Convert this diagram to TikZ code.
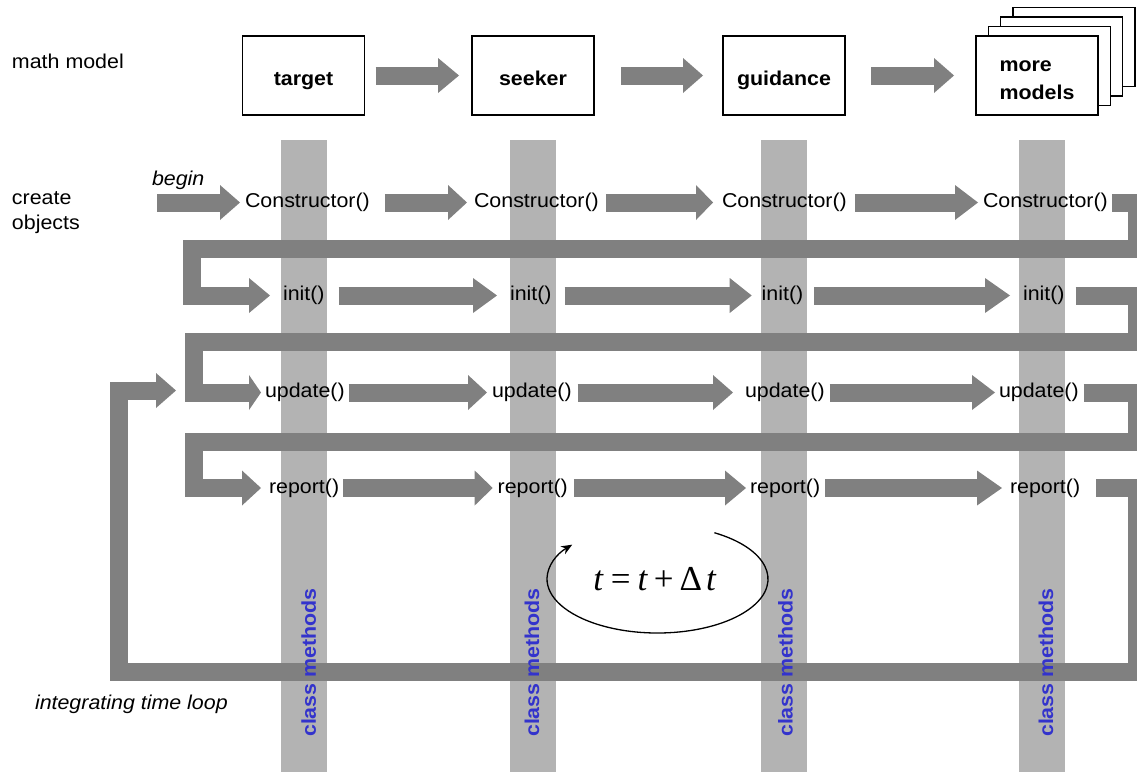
\documentclass[tikz,border=0pt]{standalone}
\usepackage{fontspec}
\setmainfont{Liberation Sans}[FakeStretch=1.07]
\newfontfamily\eqfont{Liberation Serif}
\usetikzlibrary{arrows.meta}
\definecolor{flow}{HTML}{808080}
\definecolor{lane}{HTML}{B3B3B3}
\definecolor{methodblue}{HTML}{3333CC}

\begin{document}
\begin{tikzpicture}[x=1pt,y=-1pt,
  every node/.style={inner sep=0pt, outer sep=0pt},
  txt/.style={font=\fontsize{20}{25}\selectfont},
  modelbox/.style={draw, line width=1.3pt, fill=white, minimum width=122pt,
    minimum height=79pt, font=\fontsize{20}{27.5}\selectfont\bfseries},
  model/.style={modelbox, text height=23pt, text depth=4pt},
  method/.style={txt, anchor=west},
  sidenote/.style={txt, anchor=base west},
  flowarrow/.style={draw=flow, line width=18pt, line join=miter,
    -{Triangle[width=35pt,length=#1,line width=0pt]}},
  flowarrow/.default=21pt,
  lanetext/.style={rotate=90, text=methodblue,
    font=\fontsize{20}{24}\selectfont\bfseries},
]
\useasboundingbox (0,0) rectangle (1137,772);
\clip (0,0) rectangle (1137,772);

% vertical lanes of the class methods
\fill[lane] (281,140) rectangle (327,772);
\fill[lane] (510,140) rectangle (556,772);
\fill[lane] (761,140) rectangle (807,772);
\fill[lane] (1019,140) rectangle (1065,772);

% row captions
\node[sidenote] (mathmodel) at (12,68.3) {math model};
\node[txt, anchor=west, align=left] (create) at (12,213) {create\\objects};
\node[sidenote, font=\fontsize{20}{25}\selectfont\itshape] (begin) at (152,185) {begin};
\node[sidenote, font=\fontsize{20}{25}\selectfont\itshape] (timeloop) at (35,709) {integrating time loop};

% math models
\node[modelbox] (more3) at (1074,47) {};
\node[modelbox] (more2) at (1061.7,56.5) {};
\node[modelbox] (more1) at (1049.3,66) {};
\node[modelbox, align=left] (more) at (1037,75.5) {\rule{0pt}{20pt}more\\models};
\node[model] (target) at (303.5,75.5) {target};
\node[model] (seeker) at (533,75.5) {seeker};
\node[model] (guidance) at (784,75.5) {guidance};

\draw[flowarrow] ([xshift=11pt]target.east) -- ([xshift=-13pt]seeker.west);
\draw[flowarrow=20pt] ([xshift=27pt]seeker.east) -- ([xshift=-20pt]guidance.west);
\draw[flowarrow=20pt] ([xshift=26pt]guidance.east) -- ([xshift=-22pt]more.west);

% method calls
\node[method] (c1) at (245,202.5) {Constructor()};
\node[method] (c2) at (474,202.5) {Constructor()};
\node[method] (c3) at (722,202.5) {Constructor()};
\node[method] (c4) at (983,202.5) {Constructor()};

\node[method] (i1) at (283,295.5) {init()};
\node[method] (i2) at (510,295.5) {init()};
\node[method] (i3) at (761.7,295.5) {init()};
\node[method] (i4) at (1023,295.5) {init()};

\node[method] (u1) at (265,392.5) {update()};
\node[method] (u2) at (492,392.5) {update()};
\node[method] (u3) at (745,392.5) {update()};
\node[method] (u4) at (999,392.5) {update()};

\node[method] (r1) at (269,488) {report()};
\node[method] (r2) at (497.7,488) {report()};
\node[method] (r3) at (750,488) {report()};
\node[method] (r4) at (1010,488) {report()};

\coordinate (start) at (157,202.5);
\coordinate (loopin) at (176,390.5);

% creation row
\draw[flowarrow=20pt] (start) -- ([xshift=-5pt]c1.west);
\draw[flowarrow=19pt] ([xshift=15pt]c1.east) -- ([xshift=-7pt]c2.west);
\draw[flowarrow=17pt] ([xshift=7pt]c2.east) -- ([xshift=-9pt]c3.west);
\draw[flowarrow=23pt] ([xshift=8pt]c3.east) -- ([xshift=-5pt]c4.west);
\draw[flowarrow] ([xshift=4pt]c4.east) -| (1137,248.5) -| (192,295.5) -- ([xshift=-13pt]i1.west);

% init row
\draw[flowarrow=24pt] ([xshift=14pt]i1.east) -- ([xshift=-13pt]i2.west);
\draw[flowarrow=22pt] ([xshift=13pt]i2.east) -- ([xshift=-10pt]i3.west);
\draw[flowarrow=25pt] ([xshift=11pt]i3.east) -- ([xshift=-13pt]i4.west);
\draw[flowarrow=12pt] ([xshift=11pt]i4.east) -| (1137,342) -| (194,392.5) -- ([xshift=-4pt]u1.west);

% update row
\draw[flowarrow=19pt] ([xshift=4pt]u1.east) -- ([xshift=-5pt]u2.west);
\draw[flowarrow=20pt] ([xshift=6pt]u2.east) -- ([xshift=-12pt]u3.west);
\draw[flowarrow=23pt] ([xshift=5pt]u3.east) -- ([xshift=-4pt]u4.west);
\draw[flowarrow=19pt] ([xshift=5pt]u4.east) -| (1137,441.5) -| (194,488) -- ([xshift=-8pt]r1.west);

% report row and the time loop back to update
\draw[flowarrow=18pt] ([xshift=4pt]r1.east) -- ([xshift=-5pt]r2.west);
\draw[flowarrow=21pt] ([xshift=6pt]r2.east) -- ([xshift=-4pt]r3.west);
\draw[flowarrow=25pt] ([xshift=5pt]r3.east) -- ([xshift=-8pt]r4.west);
\draw[flowarrow=20pt] ([xshift=16pt]r4.east) -| (1137,671.5) -| (119,390.5) -- (loopin);

% lane captions
\node[lanetext] (cm1) at (308.7,662.5) {class methods};
\node[lanetext] (cm2) at (532,662.5) {class methods};
\node[lanetext] (cm3) at (785.5,662.5) {class methods};
\node[lanetext] (cm4) at (1046,662.5) {class methods};

% time step
\node[font=\eqfont\fontsize{35}{35}\selectfont] (stepeq) at (655,579)
  {\textit{t}\hspace{7pt}=\hspace{7pt}\textit{t}\hspace{6pt}+\hspace{6pt}Δ\hspace{4pt}\textit{t}};
\draw[line width=1.3pt, -{Stealth[length=11pt,width=9pt]}]
  ([xshift=2.5pt]stepeq.center) ++(-59:110.5 and 54)
  arc[start angle=-59, end angle=219.5, x radius=110.5, y radius=54];
\end{tikzpicture}
\end{document}
